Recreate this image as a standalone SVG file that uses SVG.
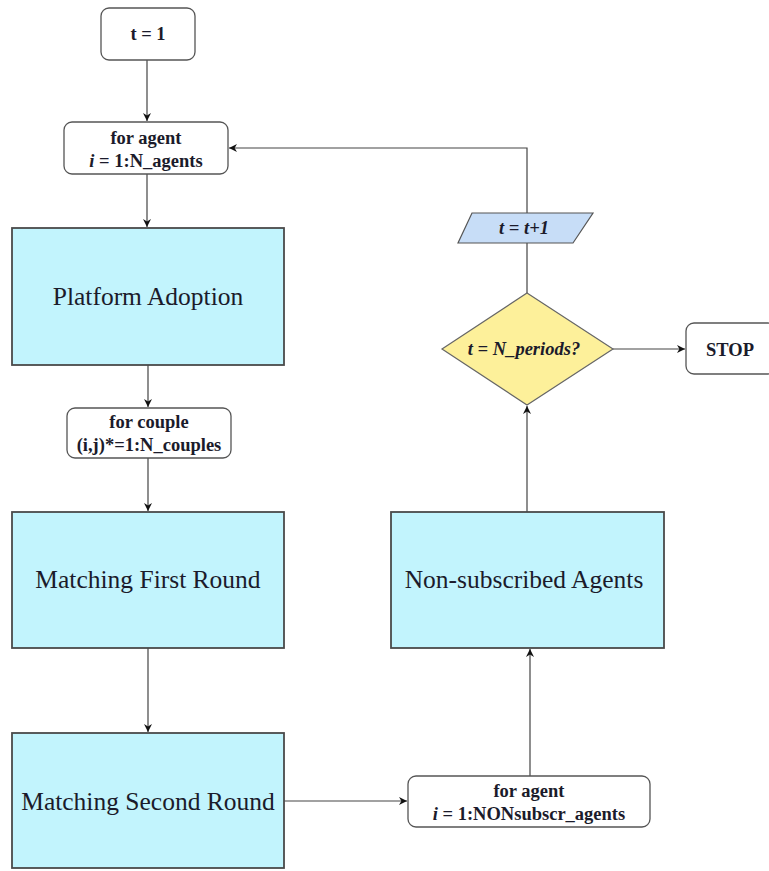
<svg xmlns="http://www.w3.org/2000/svg" width="769" height="871" viewBox="0 0 769 871" font-family="Liberation Serif, Times New Roman, serif">
  <defs>
    <marker id="arrow" viewBox="0 0 10 10" refX="10" refY="5" markerWidth="8" markerHeight="8" markerUnits="userSpaceOnUse" orient="auto">
      <path d="M0,0 L10,5 L0,10 L3,5 Z" fill="#111"/>
    </marker>
    <style>
      .loop { fill: #ffffff; stroke: #555; stroke-width: 1.3; }
      .step { fill: #c2f4fd; stroke: #4a4a4a; stroke-width: 1.8; }
      .cond { fill: #fdf09a; stroke: #666; stroke-width: 1.2; }
      .inc  { fill: #c7ddf7; stroke: #555; stroke-width: 1.2; }
      text { fill: #1b1b2b; text-anchor: middle; }
      .small { font-size: 18.5px; font-weight: bold; }
      .big { font-size: 25.5px; }
      .link { fill: none; stroke: #444; stroke-width: 1.2; }
    </style>
  </defs>

  <g id="connectors">
    <path class="link" d="M147,60 V121" marker-end="url(#arrow)"/>
    <path class="link" d="M147,174 V227" marker-end="url(#arrow)"/>
    <path class="link" d="M148,365 V407" marker-end="url(#arrow)"/>
    <path class="link" d="M148,458 V511" marker-end="url(#arrow)"/>
    <path class="link" d="M148,648 V732" marker-end="url(#arrow)"/>
    <path class="link" d="M284,801 H407" marker-end="url(#arrow)"/>
    <path class="link" d="M530,776 V649" marker-end="url(#arrow)"/>
    <path class="link" d="M527,512 V406" marker-end="url(#arrow)"/>
    <path class="link" d="M613,349 H685" marker-end="url(#arrow)"/>
    <path class="link" d="M527,293 V148 H229" marker-end="url(#arrow)"/>
  </g>

  <g id="start">
    <rect class="loop" x="101" y="8" width="94" height="52" rx="8"/>
    <text class="small" x="148" y="40" font-family="Liberation Serif, Times New Roman, serif">t = 1</text>
  </g>

  <g id="loop-agents">
    <rect class="loop" x="64" y="122" width="164" height="52" rx="8"/>
    <text class="small" x="146" y="144" font-family="Liberation Serif, Times New Roman, serif">for agent</text>
    <text class="small" x="146" y="167" font-family="Liberation Serif, Times New Roman, serif"><tspan font-style="italic">i</tspan> = 1:N_agents</text>
  </g>

  <g id="platform-adoption">
    <rect class="step" x="12" y="228" width="272" height="137"/>
    <text class="big" x="148" y="305" font-family="Liberation Serif, Times New Roman, serif">Platform Adoption</text>
  </g>

  <g id="loop-couples">
    <rect class="loop" x="67" y="408" width="164" height="50" rx="8"/>
    <text class="small" x="149" y="428" font-family="Liberation Serif, Times New Roman, serif">for couple</text>
    <text class="small" x="149" y="451" font-family="Liberation Serif, Times New Roman, serif">(i,j)*=1:N_couples</text>
  </g>

  <g id="matching-first">
    <rect class="step" x="12" y="512" width="272" height="136"/>
    <text class="big" x="148" y="588" font-family="Liberation Serif, Times New Roman, serif">Matching First Round</text>
  </g>

  <g id="matching-second">
    <rect class="step" x="12" y="733" width="272" height="135"/>
    <text class="big" x="148" y="810" font-family="Liberation Serif, Times New Roman, serif">Matching Second Round</text>
  </g>

  <g id="loop-nonsubscr">
    <rect class="loop" x="408" y="776" width="242" height="51" rx="8"/>
    <text class="small" x="529" y="797" font-family="Liberation Serif, Times New Roman, serif">for agent</text>
    <text class="small" x="529" y="820" font-family="Liberation Serif, Times New Roman, serif"><tspan font-style="italic">i</tspan> = 1:NONsubscr_agents</text>
  </g>

  <g id="non-subscribed">
    <rect class="step" x="391" y="512" width="273" height="136"/>
    <text class="big" x="524" y="588" font-family="Liberation Serif, Times New Roman, serif">Non-subscribed Agents</text>
  </g>

  <g id="check-periods">
    <polygon class="cond" points="527,293 613,349 527,405 442,349"/>
    <text class="small" x="524" y="355" font-style="italic" font-family="Liberation Serif, Times New Roman, serif">t = N_periods?</text>
  </g>

  <g id="increment">
    <polygon class="inc" points="472,213 593,213 573,243 458,243"/>
    <text class="small" x="524" y="234" font-style="italic" font-family="Liberation Serif, Times New Roman, serif">t = t+1</text>
  </g>

  <g id="stop">
    <rect class="loop" x="686" y="323" width="90" height="51" rx="8"/>
    <text class="small" x="730" y="356" font-family="Liberation Serif, Times New Roman, serif">STOP</text>
  </g>
</svg>
